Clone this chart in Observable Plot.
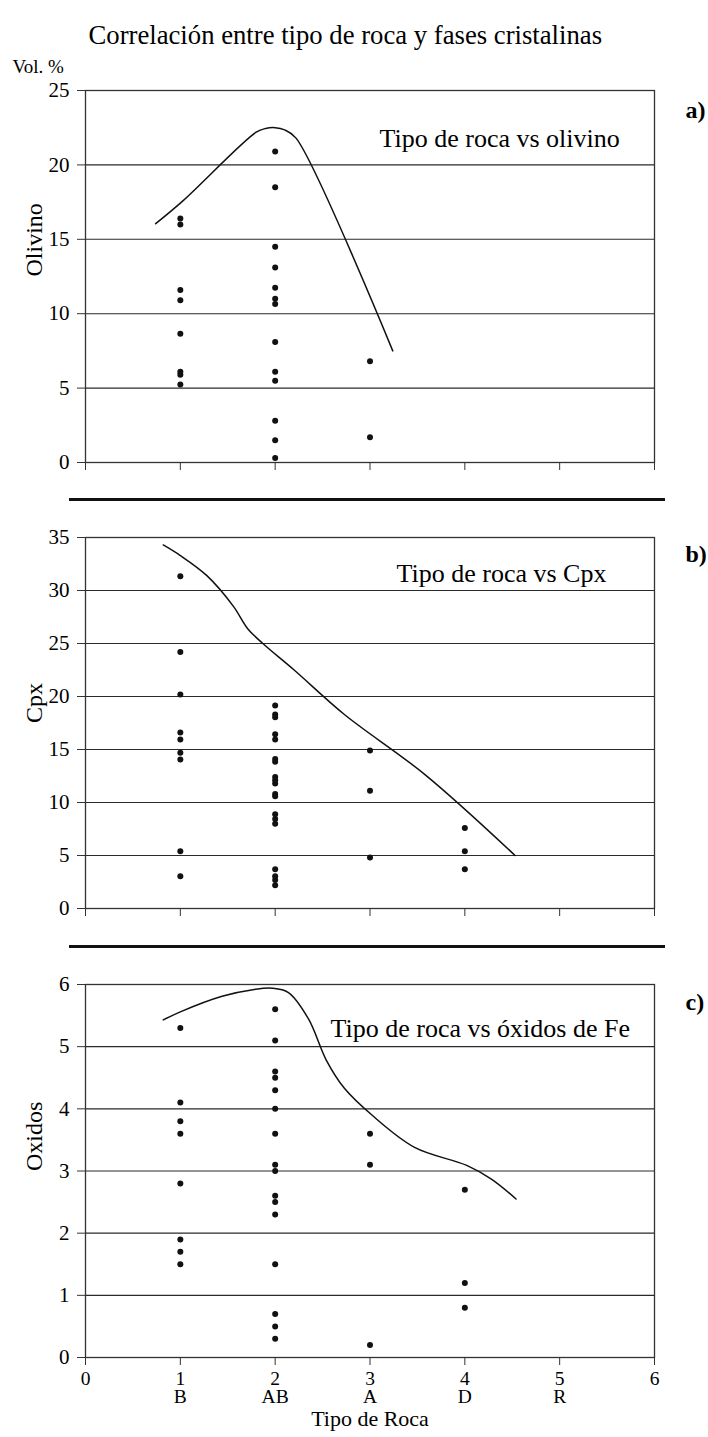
<!DOCTYPE html>
<html>
<head>
<meta charset="utf-8">
<script src="https://cdn.jsdelivr.net/npm/d3@7"></script>
<script src="https://cdn.jsdelivr.net/npm/@observablehq/plot@0.6"></script>
<style>
  body { margin: 0; background: #fff; }
  #wrap { position: relative; width: 708px; height: 1437px; background: #fff; overflow: hidden; }
  .panel { position: absolute; left: 0; }
  .sep { position: absolute; left: 69px; width: 596px; height: 3px; background: #111; }
</style>
</head>
<body>
<div id="wrap"></div>
<script>
// ---------- shared ----------
const xTicks = [0, 1, 2, 3, 4, 5, 6];
const rockCodes = [1, 2, 3, 4, 5];
const rockLetters = ["B", "AB", "A", "D", "R"];
const chartTitle = "Correlación entre tipo de roca y fases cristalinas";
const unitLabel = "Vol. %";
const xAxisTitle = "Tipo de Roca";

// ---------- panel a: olivino ----------
const olivinoB  = [16.4, 16.0, 11.6, 10.9, 8.65, 6.1, 5.9, 5.25];
const olivinoAB = [20.9, 18.5, 14.5, 13.1, 11.75, 11.0, 10.65, 8.1, 6.1, 5.5, 2.8, 1.5, 0.3];
const olivinoA  = [6.8, 1.7];
const olivinoCurveX = [0.74, 1.03, 1.8, 1.9, 2.0, 2.1, 2.22, 3.24];
const olivinoCurveY = [16.05, 17.6, 22.2, 22.45, 22.5, 22.35, 21.8, 7.5];
const olivinoTicks = [0, 5, 10, 15, 20, 25];

// ---------- panel b: Cpx ----------
const cpxB  = [31.35, 24.2, 20.2, 16.6, 15.95, 14.7, 14.05, 5.4, 3.05];
const cpxAB = [19.15, 18.3, 18.05, 16.45, 15.95, 14.1, 13.85, 12.4, 12.1, 11.8, 10.8, 10.6, 8.9, 8.45, 8.0, 3.7, 3.05, 2.7, 2.2];
const cpxA  = [14.9, 11.1, 4.8];
const cpxD  = [7.6, 5.4, 3.7];
const cpxCurveX = [0.82, 1.0, 1.28, 1.56, 1.71, 1.87, 2.2, 2.73, 3.57, 4.53];
const cpxCurveY = [34.3, 33.3, 31.4, 28.5, 26.4, 25.0, 22.5, 18.3, 12.7, 5.0];
const cpxTicks = [0, 5, 10, 15, 20, 25, 30, 35];

// ---------- panel c: óxidos ----------
const oxB  = [5.3, 4.1, 3.8, 3.6, 2.8, 1.9, 1.7, 1.5];
const oxAB = [5.6, 5.1, 4.6, 4.5, 4.3, 4.0, 3.6, 3.1, 3.0, 2.6, 2.5, 2.3, 1.5, 0.7, 0.5, 0.3];
const oxA  = [3.6, 3.1, 0.2];
const oxD  = [2.7, 1.2, 0.8];
const oxCurveX = [0.82, 1.0, 1.44, 1.78, 1.97, 2.14, 2.35, 2.54, 2.73, 3.02, 3.47, 4.02, 4.28, 4.54];
const oxCurveY = [5.43, 5.56, 5.81, 5.92, 5.94, 5.87, 5.45, 4.78, 4.33, 3.9, 3.38, 3.09, 2.87, 2.55];
const oxTicks = [0, 1, 2, 3, 4, 5, 6];

// ---------- helpers ----------
function toPoints(groups) {
  const out = [];
  for (const [x, values] of groups) for (const y of values) out.push({x, y});
  return out;
}
function toCurve(xs, ys) { return xs.map((x, i) => ({x, y: ys[i]})); }
function xLabel(d) {
  const i = rockCodes.indexOf(d);
  return i >= 0 ? `${d}\n${rockLetters[i]}` : String(d);
}

const FONT = "'Liberation Serif', 'Times New Roman', serif";

function makePanel(cfg) {
  const marks = [
    Plot.gridY({ticks: cfg.ticks.filter(t => t > 0 && t < cfg.ymax), stroke: "#2a2a2a", strokeOpacity: 1, strokeWidth: 1.1}),
    Plot.frame({stroke: "#333", strokeWidth: 1.3}),
    Plot.axisY({ticks: cfg.ticks, tickSize: 8, tickPadding: 8, fontSize: 21, label: null, stroke: "#333",
      tickFormat: d => String(d)}),
    cfg.showX
      ? Plot.axisX({ticks: xTicks, tickSize: 8, tickPadding: 6, fontSize: 19.5, lineHeight: 0.95, label: null, stroke: "#333",
          tickFormat: xLabel})
      : Plot.axisX({ticks: xTicks, tickSize: 8, label: null, stroke: "#333", tickFormat: () => ""}),
    Plot.line(cfg.curve, {x: "x", y: "y", curve: "catmull-rom", stroke: "#111", strokeWidth: 1.5}),
    Plot.dot(cfg.points, {x: "x", y: "y", r: 3, fill: "#111", stroke: "none"}),
    Plot.text([cfg.inner], {frameAnchor: "top-left", dx: cfg.innerDx, dy: cfg.innerDy, textAnchor: "start", fontSize: 26, fill: "#000"}),
    Plot.text([cfg.tag], {frameAnchor: "top-right", dx: 31, dy: cfg.tagDy, textAnchor: "start", fontSize: 24, fontWeight: "bold", fill: "#000"}),
    Plot.text([cfg.ylabel], {frameAnchor: "left", dx: -51, rotate: -90, fontSize: 24, fill: "#000"})
  ];
  if (cfg.extra) marks.push(...cfg.extra);
  return Plot.plot({
    width: 708,
    height: cfg.height,
    marginLeft: 85,
    marginRight: 54,
    marginTop: cfg.mt,
    marginBottom: cfg.mb,
    x: {domain: [0, 6]},
    y: {domain: [0, cfg.ymax]},
    style: {fontFamily: FONT, fontSize: "21px", background: "white", color: "#000", overflow: "visible"},
    marks
  });
}

const wrap = document.getElementById("wrap");
function place(el, top) {
  el.classList.add("panel");
  el.style.top = top + "px";
  wrap.appendChild(el);
}

// panel a
place(makePanel({
  height: 500, mt: 90, mb: 38, ymax: 25, ticks: olivinoTicks, showX: false,
  points: toPoints([[1, olivinoB], [2, olivinoAB], [3, olivinoA]]),
  curve: toCurve(olivinoCurveX, olivinoCurveY),
  inner: "Tipo de roca vs olivino", innerDx: 294, innerDy: 38,
  tag: "a)", tagDy: 10, ylabel: "Olivino",
  extra: [
    Plot.text([chartTitle], {frameAnchor: "top-left", dx: 3, dy: -65, textAnchor: "start", fontSize: 26.7, fill: "#000"}),
    Plot.text([unitLabel], {frameAnchor: "top-left", dx: -73, dy: -31, textAnchor: "start", fontSize: 19, fill: "#000"})
  ]
}), 0);

// panel b
place(makePanel({
  height: 447, mt: 37, mb: 39, ymax: 35, ticks: cpxTicks, showX: false,
  points: toPoints([[1, cpxB], [2, cpxAB], [3, cpxA], [4, cpxD]]),
  curve: toCurve(cpxCurveX, cpxCurveY),
  inner: "Tipo de roca vs Cpx", innerDx: 311, innerDy: 26,
  tag: "b)", tagDy: 7, ylabel: "Cpx"
}), 500);

// panel c
place(makePanel({
  height: 490, mt: 37, mb: 80, ymax: 6, ticks: oxTicks, showX: true,
  points: toPoints([[1, oxB], [2, oxAB], [3, oxA], [4, oxD]]),
  curve: toCurve(oxCurveX, oxCurveY),
  inner: "Tipo de roca vs óxidos de Fe", innerDx: 245, innerDy: 34,
  tag: "c)", tagDy: 8, ylabel: "Oxidos",
  extra: [
    Plot.text([xAxisTitle], {frameAnchor: "bottom", dy: 68, fontSize: 22, fill: "#000"})
  ]
}), 947);

// separators
for (const top of [498, 945]) {
  const s = document.createElement("div");
  s.className = "sep";
  s.style.top = top + "px";
  wrap.appendChild(s);
}
</script>
</body>
</html>
